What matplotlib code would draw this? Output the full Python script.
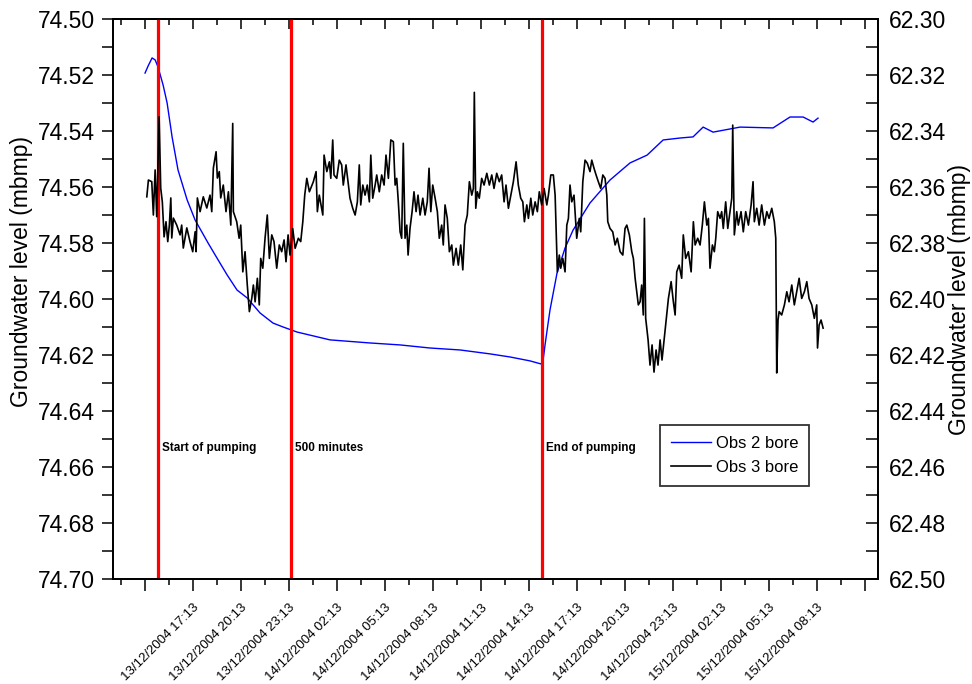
import matplotlib
matplotlib.use('Agg')
import matplotlib.pyplot as plt
from matplotlib.ticker import FixedLocator, FixedFormatter, MultipleLocator

plt.rcParams['font.family'] = ['Liberation Sans', 'DejaVu Sans']

# Time axis: hours after 13/12/2004 14:13
obs2_hours = [0.0, 0.19, 0.31, 0.44, 0.63, 0.81, 1.13, 1.38, 1.69, 2.06, 2.63,
              3.13, 3.94, 4.5, 5.13, 5.75, 6.38, 7.19, 8.0, 8.63, 9.5, 11.56,
              14.06, 15.94, 17.81, 19.69, 21.56, 22.81, 24.06, 24.75, 24.88,
              25.0, 25.13, 25.31, 25.75, 26.25, 26.75, 27.81, 29.06, 30.31,
              31.38, 32.38, 33.44, 34.25, 34.88, 35.5, 37.19, 39.25, 40.31,
              41.13, 41.75, 42.06]
obs2_level = [74.5193, 74.5168, 74.5154, 74.5139, 74.5146, 74.5171, 74.5236,
              74.5300, 74.5421, 74.5539, 74.5646, 74.5718, 74.5800, 74.5854,
              74.5914, 74.5968, 74.5996, 74.6050, 74.6086, 74.6100, 74.6118,
              74.6146, 74.6157, 74.6164, 74.6175, 74.6182, 74.6196, 74.6207,
              74.6221, 74.6232, 74.6218, 74.6164, 74.6111, 74.6039, 74.5907,
              74.5818, 74.5754, 74.5657, 74.5575, 74.5514, 74.5486, 74.5432,
              74.5425, 74.5421, 74.5386, 74.5404, 74.5386, 74.5389, 74.5350,
              74.5350, 74.5368, 74.5354]

obs3_hours = [0.11, 0.21, 0.42, 0.52, 0.63, 0.73, 0.88, 0.98, 1.08, 1.19, 1.31,
              1.42, 1.52, 1.61, 1.67, 1.77, 1.98, 2.19, 2.29, 2.39, 2.61, 2.81,
              2.98, 3.13, 3.19, 3.27, 3.44, 3.64, 3.86, 4.06, 4.17, 4.27, 4.44,
              4.52, 4.64, 4.73, 4.89, 5.06, 5.21, 5.36, 5.48, 5.52, 5.73, 5.88,
              5.98, 6.11, 6.25, 6.39, 6.52, 6.67, 6.77, 6.88, 7.02, 7.14, 7.23,
              7.36, 7.5, 7.64, 7.77, 7.92, 8.06, 8.23, 8.39, 8.54, 8.69, 8.81,
              8.94, 9.06, 9.23, 9.38, 9.58, 9.73, 9.86, 9.98, 10.11, 10.27,
              10.52, 10.69, 10.77, 10.89, 11.11, 11.19, 11.36, 11.52, 11.61,
              11.73, 11.81, 11.98, 12.14, 12.29, 12.39, 12.56, 12.71, 12.81,
              12.98, 13.13, 13.27, 13.39, 13.48, 13.61, 13.75, 13.89, 14.02,
              14.11, 14.23, 14.38, 14.48, 14.64, 14.79, 14.94, 15.06, 15.21,
              15.36, 15.52, 15.63, 15.73, 15.83, 15.94, 16.04, 16.14, 16.25,
              16.36, 16.44, 16.56, 16.69, 16.81, 16.94, 17.06, 17.19, 17.36,
              17.5, 17.64, 17.75, 17.86, 17.98, 18.13, 18.27, 18.39, 18.54,
              18.64, 18.75, 18.89, 19.02, 19.17, 19.27, 19.44, 19.58, 19.73,
              19.86, 20.0, 20.14, 20.27, 20.42, 20.52, 20.58, 20.67, 20.77,
              20.89, 21.04, 21.19, 21.36, 21.52, 21.67, 21.81, 21.98, 22.14,
              22.29, 22.44, 22.56, 22.71, 22.86, 23.02, 23.19, 23.33, 23.48,
              23.61, 23.71, 23.86, 23.96, 24.11, 24.23, 24.38, 24.52, 24.64,
              24.79, 24.94, 25.11, 25.21, 25.36, 25.52, 25.63, 25.69, 25.77,
              25.89, 25.98, 26.11, 26.25, 26.36, 26.46, 26.56, 26.67, 26.81,
              26.98, 27.14, 27.23, 27.36, 27.5, 27.64, 27.81, 27.92, 28.06,
              28.19, 28.33, 28.48, 28.61, 28.75, 28.86, 28.92, 29.06, 29.23,
              29.38, 29.52, 29.69, 29.86, 30.0, 30.11, 30.27, 30.42, 30.52,
              30.63, 30.73, 30.83, 30.94, 31.04, 31.14, 31.21, 31.29, 31.44,
              31.56, 31.69, 31.81, 31.94, 32.06, 32.19, 32.31, 32.71, 32.88,
              33.02, 33.13, 33.23, 33.38, 33.54, 33.64, 33.79, 33.96, 34.13,
              34.27, 34.38, 34.54, 34.69, 34.83, 34.96, 35.11, 35.21, 35.31,
              35.46, 35.58, 35.67, 35.79, 35.94, 36.04, 36.14, 36.29, 36.42,
              36.56, 36.67, 36.73, 36.83, 36.98, 37.08, 37.25, 37.39, 37.54,
              37.71, 37.88, 38.0, 38.08, 38.23, 38.38, 38.54, 38.71, 38.86,
              39.0, 39.17, 39.33, 39.42, 39.48, 39.56, 39.63, 39.79, 39.96,
              40.11, 40.25, 40.42, 40.58, 40.73, 40.88, 41.04, 41.21, 41.36,
              41.5, 41.67, 41.83, 41.98, 42.03, 42.13, 42.25, 42.38]
obs3_level = [62.3635, 62.3575, 62.3581, 62.3700, 62.3539, 62.3706, 62.3349,
              62.3604, 62.3653, 62.3778, 62.3724, 62.3795, 62.3736, 62.3639,
              62.3782, 62.3711, 62.3736, 62.3771, 62.3736, 62.3818, 62.3746,
              62.3795, 62.3831, 62.3760, 62.3831, 62.3639, 62.3688, 62.3635,
              62.3675, 62.3629, 62.3688, 62.3532, 62.3474, 62.3568, 62.3545,
              62.3639, 62.3593, 62.3688, 62.3617, 62.3736, 62.3373, 62.3688,
              62.3724, 62.3783, 62.3736, 62.3903, 62.3831, 62.3950, 62.4045,
              62.3998, 62.3950, 62.4010, 62.3926, 62.4021, 62.3855, 62.3890,
              62.3783, 62.3700, 62.3855, 62.3771, 62.3795, 62.3890, 62.3807,
              62.3831, 62.3789, 62.3867, 62.3771, 62.3843, 62.3748, 62.3819,
              62.3783, 62.3795, 62.3724, 62.3629, 62.3569, 62.3617, 62.3581,
              62.3545, 62.3688, 62.3629, 62.3700, 62.3486, 62.3545, 62.3510,
              62.3569, 62.3432, 62.3557, 62.3569, 62.3504, 62.3521, 62.3593,
              62.3521, 62.3593, 62.3640, 62.3676, 62.3700, 62.3653, 62.3521,
              62.3664, 62.3593, 62.3629, 62.3593, 62.3653, 62.3486, 62.3640,
              62.3593, 62.3557, 62.3617, 62.3557, 62.3593, 62.3486, 62.3569,
              62.3432, 62.3438, 62.3593, 62.3569, 62.3653, 62.3760, 62.3783,
              62.3444, 62.3783, 62.3736, 62.3843, 62.3748, 62.3688, 62.3617,
              62.3688, 62.3629, 62.3700, 62.3640, 62.3700, 62.3653, 62.3533,
              62.3688, 62.3593, 62.3640, 62.3688, 62.3783, 62.3736, 62.3807,
              62.3664, 62.3712, 62.3831, 62.3807, 62.3879, 62.3819, 62.3879,
              62.3807, 62.3896, 62.3736, 62.3700, 62.3581, 62.3629, 62.3605,
              62.3262, 62.3676, 62.3617, 62.3640, 62.3569, 62.3593, 62.3551,
              62.3593, 62.3557, 62.3605, 62.3551, 62.3581, 62.3557, 62.3653,
              62.3593, 62.3676, 62.3629, 62.3581, 62.3510, 62.3593, 62.3640,
              62.3653, 62.3724, 62.3664, 62.3712, 62.3640, 62.3700, 62.3653,
              62.3688, 62.3617, 62.3664, 62.3605, 62.3664, 62.3629, 62.3557,
              62.3557, 62.3629, 62.3748, 62.3903, 62.3843, 62.3890, 62.3855,
              62.3903, 62.3736, 62.3712, 62.3593, 62.3653, 62.3629, 62.3783,
              62.3712, 62.3760, 62.3581, 62.3504, 62.3515, 62.3545, 62.3504,
              62.3533, 62.3557, 62.3581, 62.3605, 62.3557, 62.3569, 62.3629,
              62.3724, 62.3748, 62.3760, 62.3807, 62.3783, 62.3831, 62.3843,
              62.3748, 62.3736, 62.3771, 62.3831, 62.3855, 62.3926, 62.3974,
              62.4021, 62.4010, 62.3950, 62.4057, 62.3712, 62.4069, 62.4146,
              62.4236, 62.4164, 62.4261, 62.4182, 62.4236, 62.4146, 62.4218,
              62.3998, 62.3938, 62.4010, 62.4057, 62.3903, 62.3879, 62.3926,
              62.3771, 62.3855, 62.3831, 62.3903, 62.3724, 62.3807, 62.3783,
              62.3807, 62.3736, 62.3653, 62.3736, 62.3712, 62.3890, 62.3807,
              62.3831, 62.3783, 62.3688, 62.3712, 62.3688, 62.3748, 62.3653,
              62.3748, 62.3688, 62.3640, 62.3379, 62.3771, 62.3688, 62.3736,
              62.3688, 62.3760, 62.3688, 62.3736, 62.3664, 62.3581, 62.3724,
              62.3676, 62.3736, 62.3664, 62.3736, 62.3688, 62.3712, 62.3676,
              62.3724, 62.3783, 62.4264, 62.4075, 62.4045, 62.4057, 62.4021,
              62.3974, 62.4010, 62.3950, 62.4021, 62.3974, 62.3926, 62.3998,
              62.3974, 62.3938, 62.3998, 62.4021, 62.4069, 62.4021, 62.4175,
              62.4093, 62.4075, 62.4104]

tick_hours = [0, 3, 6, 9, 12, 15, 18, 21, 24, 27, 30, 33, 36, 39, 42, 45]
tick_labels = ['', '13/12/2004 17:13', '13/12/2004 20:13', '13/12/2004 23:13',
               '14/12/2004 02:13', '14/12/2004 05:13', '14/12/2004 08:13',
               '14/12/2004 11:13', '14/12/2004 14:13', '14/12/2004 17:13',
               '14/12/2004 20:13', '14/12/2004 23:13', '15/12/2004 02:13',
               '15/12/2004 05:13', '15/12/2004 08:13', '']

# pumping started 15:00 on 13/12, ran for 24 hours
event_hours = [0.783, 9.117, 24.783]
event_labels = ['Start of pumping', '500 minutes', 'End of pumping']

fig = plt.figure(figsize=(9.72, 6.84), dpi=100)
ax = fig.add_axes([0.1163, 0.1535, 0.7870, 0.8187])
ax2 = ax.twinx()

l2, = ax.plot(obs2_hours, obs2_level, color='#0000ff', lw=1.0,
              label='Obs 2 bore')
l3, = ax2.plot(obs3_hours, obs3_level, color='black', lw=1.2,
               label='Obs 3 bore')

for h, txt in zip(event_hours, event_labels):
    ax.axvline(h, color='#ff0000', lw=2.3, zorder=5)
    ax.annotate(txt, xy=(h, 0.234), xycoords=('data', 'axes fraction'),
                xytext=(3, 0), textcoords='offset points',
                fontsize=8.5, fontweight='bold', va='center', ha='left')

ax.set_xlim(-2.0, 45.81)
ax.set_ylim(74.70, 74.50)
ax2.set_ylim(62.50, 62.30)

ax.xaxis.set_major_locator(FixedLocator(tick_hours))
ax.xaxis.set_major_formatter(FixedFormatter(tick_labels))
ax.xaxis.set_minor_locator(MultipleLocator(1.5))
for lab in ax.get_xticklabels():
    lab.set_rotation(45)
    lab.set_ha('right')
    lab.set_rotation_mode('anchor')

# top edge carries inward ticks only
top = ax.secondary_xaxis('top')
top.xaxis.set_major_locator(FixedLocator(tick_hours))
top.xaxis.set_minor_locator(MultipleLocator(1.5))
top.tick_params(which='major', direction='in', length=7.5, width=1.1,
                labeltop=False)
top.tick_params(which='minor', direction='in', length=4, width=1.1)
top.spines['top'].set_linewidth(1.3)

ax.yaxis.set_major_locator(MultipleLocator(0.02))
ax.yaxis.set_minor_locator(MultipleLocator(0.01))
ax.yaxis.set_major_formatter(lambda v, p: f'{v:.2f}')
ax2.yaxis.set_major_locator(MultipleLocator(0.02))
ax2.yaxis.set_minor_locator(MultipleLocator(0.01))
ax2.yaxis.set_major_formatter(lambda v, p: f'{v:.2f}')

ax.tick_params(axis='x', which='major', direction='out', length=8.5, width=1.1,
               top=False, labelsize=9.5, pad=8)
ax.tick_params(axis='x', which='minor', direction='out', length=4.3, width=1.1,
               top=False)
ax.tick_params(axis='y', which='both', direction='out', length=8, width=1.1,
               labelsize=16.5, pad=5)
ax2.tick_params(axis='y', which='both', direction='in', length=9, width=1.1,
                labelsize=16.5, pad=8)

ax.set_ylabel('Groundwater level (mbmp)', fontsize=16.5)
ax2.set_ylabel('Groundwater level (mbmp)', fontsize=16.5)
ax.yaxis.set_label_coords(-0.105, 0.55)
ax2.yaxis.set_label_coords(1.091, 0.5)

for a in (ax, ax2):
    for s in a.spines.values():
        s.set_linewidth(1.3)

leg = ax.legend(handles=[l2, l3], loc='upper left',
                bbox_to_anchor=(0.715, 0.275), fontsize=12, frameon=True,
                fancybox=False, edgecolor='black', handlelength=2.4,
                handletextpad=0.3, borderpad=0.65, labelspacing=0.55,
                borderaxespad=0)
leg.get_frame().set_linewidth(1.3)
leg.set_zorder(10)

fig.savefig('out.png', dpi=100)
